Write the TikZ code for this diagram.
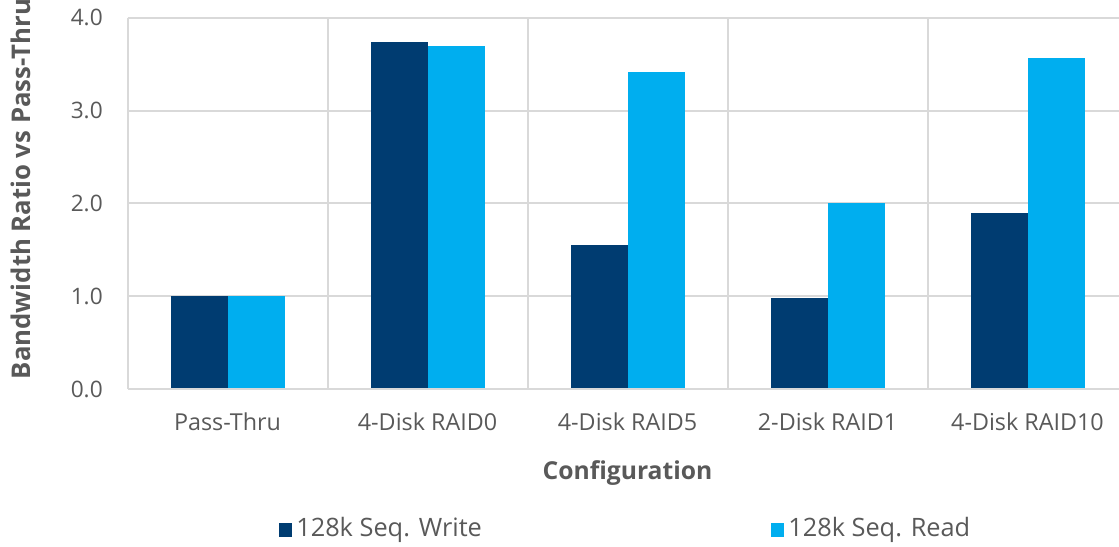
\documentclass[tikz,border=0pt]{standalone}
\usepackage{fontspec}
\setmainfont{Open Sans}
\definecolor{dblue}{HTML}{003C71}
\definecolor{lblue}{HTML}{00AEEF}
\definecolor{grid}{HTML}{D9D9D9}
\definecolor{txt}{HTML}{595959}
\begin{document}
\begin{tikzpicture}[x=0.75pt,y=-0.75pt,
  gridline/.style={draw=grid, line width=1.5pt},
  wbar/.style={fill=dblue, draw=none},
  rbar/.style={fill=lblue, draw=none},
  ticklbl/.style={text=txt, font=\fontsize{17}{20}\selectfont, anchor=east, inner sep=0pt},
  catlbl/.style={text=txt, font=\fontsize{17.5}{20}\selectfont, inner sep=0pt},
  title/.style={text=txt, font=\bfseries\fontsize{18.5}{22}\selectfont, inner sep=0pt},
  ytitle/.style={text=txt, font=\bfseries\fontsize{19.3}{22}\selectfont, inner sep=0pt, rotate=90},
  leglbl/.style={text=txt, font=\fontsize{19}{22}\selectfont, anchor=west, inner sep=0pt}
]
\useasboundingbox (0,0) rectangle (1119,546);
% horizontal grid
\foreach \v in {1,2,3,4} {
  \draw[gridline] (127.5,{389-92.8*\v}) -- (1119,{389-92.8*\v});
}
% vertical grid
\foreach \xx in {127.5,327.5,527.5,727.5,927.5} {
  \draw[gridline] (\xx,17.8) -- (\xx,389);
}
% bars: write, read
\foreach \i/\w/\r in {0/1.0/1.0, 1/3.74/3.70, 2/1.55/3.42, 3/0.98/2.00, 4/1.90/3.57} {
  \pgfmathsetmacro{\c}{227.5+200*\i}
  \fill[wbar] ({\c-57},389) rectangle (\c,{389-92.8*\w});
  \fill[rbar] (\c,389) rectangle ({\c+57},{389-92.8*\r});
}
\draw[gridline] (127.5,389) -- (1119,389);
% tick labels
\node[ticklbl] (t0) at (103,389) {0.0};
\node[ticklbl] (t1) at (103,296.2) {1.0};
\node[ticklbl] (t2) at (103,203.4) {2.0};
\node[ticklbl] (t3) at (103,110.6) {3.0};
\node[ticklbl] (t4) at (103,17.8) {4.0};
% category labels
\node[catlbl] (c0) at (227.5,422) {Pass-Thru};
\node[catlbl] (c1) at (427.5,422) {4-Disk RAID0};
\node[catlbl] (c2) at (627.5,422) {4-Disk RAID5};
\node[catlbl] (c3) at (827.5,422) {2-Disk RAID1};
\node[catlbl] (c4) at (1027.5,422) {4-Disk RAID10};
% axis titles
\node[title] (xt) at (627.5,473) {Configuration};
\node[ytitle] (yt) at (21,189) {Bandwidth Ratio vs Pass-Thru};
% legend
\fill[wbar] (279,523) rectangle (292,537);
\node[leglbl] (lw) at (296,530) {128k Seq. Write};
\fill[rbar] (771,523) rectangle (784,537);
\node[leglbl] (lr) at (788,530) {128k Seq. Read};
\end{tikzpicture}
\end{document}
